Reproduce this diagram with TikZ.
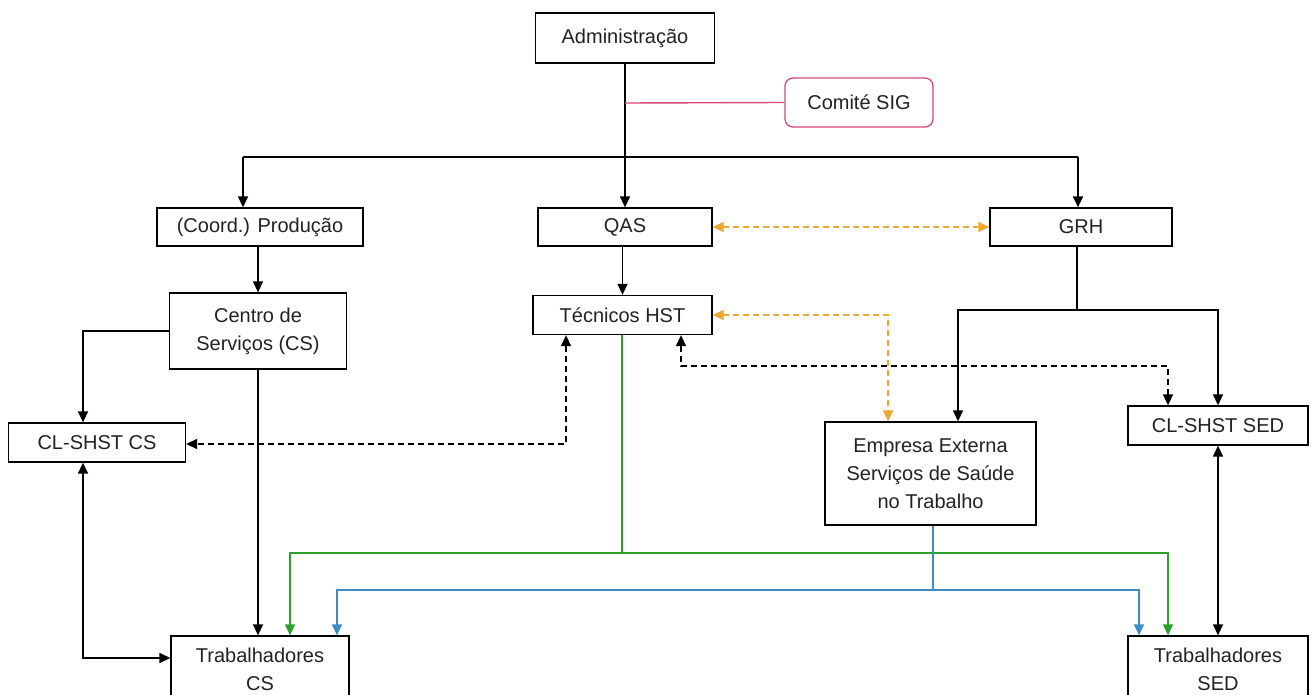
\documentclass[tikz,border=0pt]{standalone}
\usepackage{fontspec}
\setmainfont{Liberation Sans}
\usetikzlibrary{arrows.meta}
\definecolor{grn}{HTML}{2CA02C}
\definecolor{blu}{HTML}{3A8DC5}
\definecolor{org}{HTML}{F0A830}
\definecolor{pnk}{HTML}{D6477F}
\definecolor{txt}{HTML}{222222}
\tikzset{
  box/.style={draw=black, line width=1.3pt, fill=white, inner sep=0pt, align=center,
    text=txt, font=\fontsize{20}{28}\selectfont},
  wire/.style={line width=1.4pt},
  tip/.style={-{Triangle[length=11pt,width=10pt]}},
  bitip/.style={{Triangle[length=11pt,width=10pt]}-{Triangle[length=11pt,width=10pt]}},
  dsh/.style={dash pattern=on 6pt off 4pt},
}
\begin{document}
\begin{tikzpicture}[x=1pt,y=-1pt]
\useasboundingbox (0,0) rectangle (1314,695);
\clip (0,0) rectangle (1314,695);
% nodes
\node[box, minimum width=179pt, minimum height=50pt] (adm) at (625,38) {Administração};
\node[box, draw=pnk, rounded corners=8pt, minimum width=148pt, minimum height=49pt] (sig) at (859,102.5) {Comité SIG};
\node[box, minimum width=206pt, minimum height=38pt] (prod) at (260,227) {(Coord.) Produção};
\node[box, minimum width=174pt, minimum height=38pt] (qas) at (625,227) {QAS};
\node[box, minimum width=182pt, minimum height=38pt] (grh) at (1081,227) {GRH};
\node[box, minimum width=177pt, minimum height=76pt] (cs) at (258,331) {Centro de\\Serviços (CS)};
\node[box, minimum width=179pt, minimum height=39pt] (tec) at (622.5,315) {Técnicos HST};
\node[box, minimum width=177pt, minimum height=39pt] (clcs) at (97,442.5) {CL-SHST CS};
\node[box, minimum width=211pt, minimum height=103pt] (emp) at (930.5,473.5) {Empresa Externa\\Serviços de Saúde\\no Trabalho};
\node[box, minimum width=180pt, minimum height=39pt] (clsed) at (1218,425.5) {CL-SHST SED};
\node[box, minimum width=178pt, minimum height=66pt] (tcs) at (260,669) {Trabalhadores\\CS};
\node[box, minimum width=180pt, minimum height=66pt] (tsed) at (1218,669) {Trabalhadores\\SED};
% helper coordinates
\coordinate (hl) at (243,157);
\coordinate (hr) at (1078,157);
\coordinate (pj) at (625,103);
\coordinate (a1) at (83,658);
\coordinate (c1) at (566,444);
\coordinate (c2) at (681,366);
\coordinate (c3) at (1168,366);
\coordinate (o1) at (888,315);
\coordinate (g1) at (1077,310);
\coordinate (g2) at (958,310);
\coordinate (g3) at (1218,310);
\coordinate (gr) at (622,553);
\coordinate (grl) at (290,553);
\coordinate (grr) at (1168,553);
\coordinate (bl) at (933,590);
\coordinate (bll) at (337,590);
\coordinate (blr) at (1139,590);
% black connectors
\draw[wire] (hl) -- (hr);
\draw[wire, tip] (hl) -- (hl |- prod.north);
\draw[wire, tip] (hr) -- (hr |- grh.north);
\draw[wire, tip] (adm.south) -- (qas.north);
\draw[wire, draw=pnk] (pj) -- (sig.west);
\draw[wire, tip] (cs.north |- prod.south) -- (cs.north);
\draw[wire, tip] (tec.north |- qas.south) -- (tec.north);
\draw[wire, tip] (cs.west) -| (a1 |- clcs.north);
\draw[wire, tip] (cs.south) -- (cs.south |- tcs.north);
\draw[wire, bitip] (a1 |- clcs.south) -- (a1) -- (tcs.west |- a1);
\draw[wire, tip] (g1 |- grh.south) -- (g1) -- (g2) -- (g2 |- emp.north);
\draw[wire, tip] (g1) -- (g3) -- (clsed.north);
\draw[wire, bitip] (clsed.south) -- (tsed.north);
% dashed black
\draw[wire, dsh, bitip] (c1 |- tec.south) -- (c1) -- (clcs.east |- c1);
\draw[wire, dsh, bitip] (c2 |- tec.south) -- (c2) -- (c3) -- (c3 |- clsed.north);
% orange dashed
\draw[wire, dsh, draw=org, bitip] (qas.east) -- (grh.west);
\draw[wire, dsh, draw=org, bitip] (tec.east) -- (o1) -- (o1 |- emp.north);
% green
\draw[wire, draw=grn] (gr |- tec.south) -- (gr);
\draw[wire, draw=grn, tip] (gr) -- (grl) -- (grl |- tcs.north);
\draw[wire, draw=grn, tip] (gr) -- (grr) -- (grr |- tsed.north);
% blue
\draw[wire, draw=blu] (bl |- emp.south) -- (bl);
\draw[wire, draw=blu, tip] (bl) -- (bll) -- (bll |- tcs.north);
\draw[wire, draw=blu, tip] (bl) -- (blr) -- (blr |- tsed.north);
\end{tikzpicture}
\end{document}
